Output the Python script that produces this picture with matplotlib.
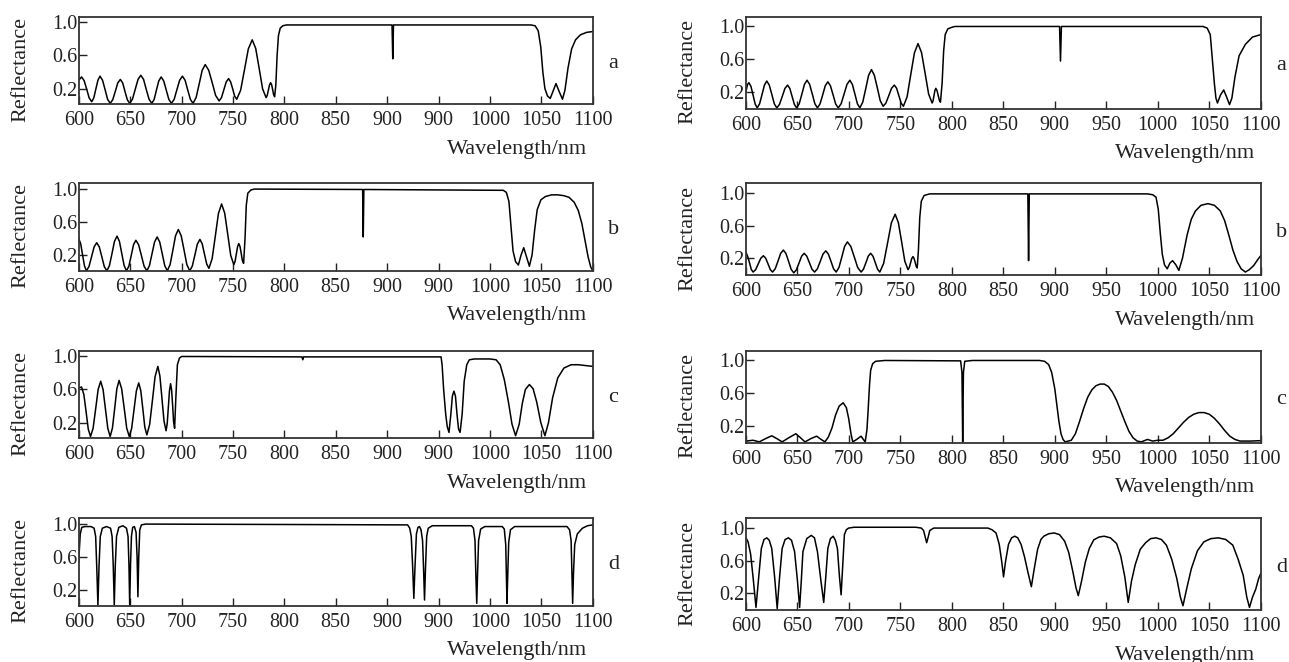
import numpy as np
import matplotlib.pyplot as plt

plt.rcParams['font.family'] = ['Liberation Serif', 'DejaVu Serif']

# reflectance spectra: [wavelength nm, reflectance]
spec_a_left = np.array([
    [600, 0.30], [602.8, 0.34], [605.3, 0.295], [607.8, 0.19], [610.2, 0.085], [612.7, 0.04],
    [614.7, 0.087], [616.7, 0.195], [618.7, 0.30], [620.7, 0.35], [623.2, 0.30], [625.7, 0.185],
    [628.1, 0.07], [630.6, 0.02], [633.1, 0.064], [635.6, 0.165], [638.0, 0.267], [640.5, 0.31],
    [642.8, 0.267], [645.0, 0.165], [647.3, 0.064], [649.6, 0.02], [652.3, 0.071], [655.0, 0.19],
    [657.7, 0.31], [660.4, 0.36], [663.1, 0.31], [665.7, 0.19], [668.4, 0.071], [671.1, 0.02],
    [673.4, 0.068], [675.6, 0.18], [677.9, 0.292], [680.2, 0.34], [682.7, 0.292], [685.2, 0.18],
    [687.7, 0.068], [690.2, 0.02], [692.9, 0.07], [695.5, 0.185], [698.2, 0.30], [700.9, 0.35],
    [703.5, 0.30], [706.0, 0.185], [708.6, 0.07], [711.2, 0.02], [714.2, 0.09], [717.2, 0.255],
    [720.1, 0.42], [723.1, 0.49], [726.5, 0.42], [729.9, 0.27], [733.2, 0.116], [736.6, 0.05],
    [738.9, 0.09], [741.2, 0.185], [743.5, 0.28], [745.8, 0.32], [747.8, 0.28], [749.8, 0.195],
    [751.7, 0.108], [753.7, 0.07], [757.5, 0.178], [761.3, 0.43], [765.0, 0.68], [768.8, 0.79],
    [772.2, 0.685], [775.6, 0.44], [778.9, 0.195], [782.3, 0.09], [783.4, 0.117], [784.5, 0.18],
    [785.6, 0.243], [786.7, 0.27], [787.7, 0.245], [788.7, 0.185], [789.6, 0.125], [790.6, 0.10],
    [791.8, 0.25], [793.0, 0.6], [794.3, 0.84], [796.0, 0.93], [798.5, 0.96], [802, 0.97],
    [904.8, 0.97], [905.5, 0.56], [906.2, 0.97], [1040, 0.97], [1044, 0.96], [1047, 0.9],
    [1049.5, 0.7], [1051.5, 0.4], [1053.5, 0.2], [1056, 0.11], [1058.7, 0.08], [1061.5, 0.17],
    [1064.3, 0.26], [1067.5, 0.16], [1070.6, 0.07], [1073, 0.18], [1076, 0.45], [1079.5, 0.68],
    [1083.3, 0.79], [1088, 0.85], [1094, 0.88], [1100, 0.89]])

spec_a_right = np.array([
    [600, 0.20], [601.4, 0.285], [602.8, 0.31], [604.8, 0.264], [606.9, 0.155], [608.9, 0.047],
    [610.9, 0.0], [613.2, 0.05], [615.6, 0.165], [617.9, 0.28], [620.2, 0.33], [622.6, 0.28],
    [625.1, 0.165], [627.5, 0.05], [629.9, 0.0], [632.5, 0.042], [635.2, 0.14], [637.8, 0.238],
    [640.4, 0.28], [642.6, 0.238], [644.8, 0.14], [647.0, 0.042], [649.2, 0.0], [651.7, 0.051],
    [654.3, 0.17], [656.8, 0.289], [659.3, 0.34], [661.8, 0.289], [664.4, 0.17], [666.9, 0.051],
    [669.4, 0.0], [671.9, 0.048], [674.5, 0.16], [677.0, 0.272], [679.5, 0.32], [682.0, 0.272],
    [684.6, 0.16], [687.1, 0.048], [689.6, 0.0], [692.4, 0.051], [695.3, 0.17], [698.1, 0.289],
    [700.9, 0.34], [703.3, 0.289], [705.8, 0.17], [708.2, 0.051], [710.6, 0.0], [713.4, 0.07],
    [716.3, 0.235], [719.1, 0.40], [721.9, 0.47], [724.7, 0.40], [727.6, 0.245], [730.4, 0.088],
    [733.2, 0.02], [735.9, 0.059], [738.7, 0.15], [741.4, 0.241], [744.1, 0.28], [746.3, 0.241],
    [748.5, 0.15], [750.7, 0.059], [752.9, 0.02], [756.5, 0.136], [760.0, 0.405], [763.6, 0.675],
    [767.1, 0.79], [770.5, 0.68], [774.0, 0.425], [777.4, 0.17], [780.8, 0.06], [781.7, 0.087],
    [782.6, 0.15], [783.5, 0.213], [784.4, 0.24], [785.5, 0.215], [786.7, 0.155], [787.8, 0.095],
    [788.9, 0.07], [790.5, 0.3], [792, 0.7], [793.5, 0.9], [796, 0.97], [800, 0.99], [803, 1.0],
    [904.6, 1.0], [905.5, 0.575], [906.4, 1.0], [1044, 1.0], [1048, 0.98], [1051, 0.9],
    [1053, 0.6], [1055, 0.3], [1056.5, 0.12], [1058, 0.06], [1061, 0.16], [1064.1, 0.22],
    [1067, 0.13], [1069.7, 0.04], [1072, 0.12], [1075, 0.38], [1079, 0.64], [1085.1, 0.78],
    [1092, 0.87], [1100, 0.90]])

spec_b_left = np.array([
    [600, 0.40], [601.9, 0.34], [603.8, 0.20], [605.6, 0.07], [607.5, 0.01], [610.0, 0.061],
    [612.5, 0.18], [615.0, 0.30], [617.5, 0.35], [620.0, 0.30], [622.5, 0.18], [624.9, 0.061],
    [627.4, 0.01], [629.9, 0.073], [632.4, 0.22], [634.8, 0.367], [637.3, 0.43], [639.6, 0.367],
    [641.9, 0.22], [644.2, 0.073], [646.5, 0.01], [648.8, 0.066], [651.1, 0.195], [653.3, 0.325],
    [655.6, 0.38], [658.3, 0.325], [661.0, 0.195], [663.6, 0.066], [666.3, 0.01], [668.8, 0.072],
    [671.3, 0.215], [673.8, 0.359], [676.3, 0.42], [678.8, 0.359], [681.3, 0.215], [683.7, 0.072],
    [686.2, 0.01], [688.9, 0.085], [691.6, 0.26], [694.2, 0.435], [696.9, 0.51], [699.7, 0.435],
    [702.5, 0.26], [705.2, 0.085], [708.0, 0.01], [710.5, 0.067], [713.0, 0.20], [715.4, 0.333],
    [717.9, 0.39], [720.1, 0.338], [722.3, 0.215], [724.5, 0.093], [726.7, 0.04], [729.8, 0.157],
    [732.9, 0.43], [735.9, 0.703], [739.0, 0.82], [742.0, 0.71], [745.0, 0.45], [747.9, 0.195],
    [750.9, 0.085], [752.1, 0.123], [753.3, 0.21], [754.5, 0.30], [755.7, 0.34], [756.9, 0.305],
    [758.1, 0.22], [759.2, 0.135], [760.4, 0.10], [761.8, 0.4], [763, 0.8], [764.5, 0.95],
    [767.6, 0.99], [771, 1.0], [876.2, 0.995], [876.8, 0.42], [877.4, 0.995], [1013, 0.985],
    [1016, 0.96], [1018.5, 0.85], [1020.5, 0.55], [1022.5, 0.25], [1025, 0.12], [1027.7, 0.08],
    [1030.3, 0.2], [1032.9, 0.29], [1035.6, 0.18], [1038.4, 0.065], [1041, 0.2], [1043.5, 0.5],
    [1046, 0.75], [1049.6, 0.87], [1054, 0.91], [1060, 0.93], [1066, 0.93], [1072, 0.92],
    [1077, 0.9], [1082, 0.84], [1086, 0.74], [1089.5, 0.58], [1092.5, 0.38], [1095.5, 0.18],
    [1098, 0.06], [1100, 0.01]])

spec_b_right = np.array([
    [600, 0.27], [601.7, 0.22], [603.5, 0.14], [605.2, 0.06], [606.9, 0.03], [609.4, 0.06],
    [611.9, 0.13], [614.4, 0.20], [616.9, 0.23], [619.1, 0.20], [621.4, 0.13], [623.6, 0.06],
    [625.8, 0.03], [628.4, 0.07], [631.1, 0.165], [633.7, 0.26], [636.3, 0.30], [638.8, 0.258],
    [641.4, 0.16], [643.9, 0.062], [646.4, 0.02], [648.9, 0.056], [651.5, 0.14], [654.0, 0.224],
    [656.5, 0.26], [659.0, 0.226], [661.6, 0.145], [664.1, 0.065], [666.6, 0.03], [669.3, 0.069],
    [672.1, 0.16], [674.8, 0.251], [677.5, 0.29], [680.0, 0.251], [682.6, 0.16], [685.1, 0.069],
    [687.6, 0.03], [690.3, 0.086], [693.1, 0.215], [695.8, 0.345], [698.5, 0.40], [701.8, 0.345],
    [705.2, 0.215], [708.5, 0.086], [711.8, 0.03], [714.1, 0.065], [716.5, 0.145], [718.8, 0.226],
    [721.1, 0.26], [723.3, 0.226], [725.6, 0.145], [727.8, 0.065], [730.0, 0.03], [733.7, 0.136],
    [737.5, 0.385], [741.2, 0.634], [744.9, 0.74], [748.0, 0.638], [751.2, 0.40], [754.3, 0.162],
    [757.4, 0.06], [758.6, 0.084], [759.8, 0.14], [761.0, 0.196], [762.2, 0.22], [763.2, 0.199],
    [764.3, 0.15], [765.3, 0.101], [766.3, 0.08], [767.5, 0.3], [768.8, 0.7], [770.3, 0.9],
    [773, 0.97], [778.4, 0.99], [873.8, 0.99], [874.5, 0.17], [875.2, 0.99], [990, 0.99],
    [995, 0.98], [998.3, 0.95], [1000.5, 0.8], [1002.5, 0.5], [1004.4, 0.25], [1006.5, 0.12],
    [1009.2, 0.07], [1011.8, 0.14], [1014.4, 0.17], [1017.5, 0.12], [1020.5, 0.05], [1024, 0.2],
    [1028.6, 0.49], [1032.6, 0.68], [1036.6, 0.78], [1042, 0.85], [1048.7, 0.87], [1055, 0.85],
    [1060.8, 0.78], [1065, 0.66], [1068.9, 0.49], [1073, 0.3], [1077, 0.16], [1081, 0.07],
    [1085.1, 0.03], [1089, 0.06], [1093.2, 0.11], [1097, 0.18], [1100, 0.23]])

spec_c_left = np.array([
    [600, 0.62], [602.8, 0.63], [605.0, 0.54], [607.2, 0.33], [609.3, 0.12], [611.5, 0.03],
    [614.0, 0.13], [616.5, 0.365], [618.9, 0.60], [621.4, 0.70], [623.7, 0.60], [626.0, 0.365],
    [628.3, 0.13], [630.6, 0.03], [632.8, 0.132], [635.0, 0.37], [637.1, 0.608], [639.3, 0.71],
    [641.8, 0.608], [644.3, 0.37], [646.7, 0.132], [649.2, 0.03], [651.5, 0.128], [653.8, 0.355],
    [656.1, 0.583], [658.4, 0.68], [660.4, 0.586], [662.4, 0.365], [664.3, 0.145], [666.3, 0.05],
    [669.0, 0.175], [671.7, 0.465], [674.3, 0.756], [677.0, 0.88], [679.0, 0.763], [681.0, 0.49],
    [683.0, 0.217], [685.0, 0.10], [686.1, 0.186], [687.2, 0.385], [688.3, 0.585], [689.4, 0.67],
    [690.4, 0.59], [691.4, 0.40], [692.3, 0.21], [693.3, 0.13], [694.5, 0.5], [696, 0.9],
    [698, 0.98], [700.1, 1.0], [817.2, 0.995], [818.0, 0.96], [818.8, 0.995], [952.5, 0.995],
    [953.5, 0.9], [955, 0.6], [957, 0.3], [958.5, 0.15], [960.2, 0.08], [962, 0.3], [963.5, 0.52],
    [965.0, 0.58], [966.5, 0.52], [968, 0.3], [969.5, 0.12], [971.0, 0.08], [973, 0.3], [975, 0.7],
    [977.5, 0.9], [980, 0.96], [985, 0.97], [1000, 0.97], [1006, 0.96], [1010, 0.9], [1014, 0.72],
    [1018, 0.45], [1021.5, 0.18], [1025, 0.04], [1028.5, 0.18], [1031.5, 0.43], [1034.5, 0.6],
    [1038.4, 0.66], [1042, 0.61], [1045.5, 0.45], [1049.5, 0.2], [1053.5, 0.04], [1057, 0.2],
    [1061, 0.5], [1066, 0.74], [1072, 0.86], [1079, 0.9], [1086, 0.9], [1093, 0.89], [1100, 0.88]])

spec_c_right = np.array([
    [600, 0.01], [606.9, 0.02], [612.9, 0.0], [619, 0.04], [625.0, 0.075], [630, 0.04],
    [635.1, 0.0], [641.5, 0.05], [648.4, 0.10], [653, 0.05], [657.3, 0.0], [663, 0.04],
    [668.6, 0.07], [673, 0.03], [676.7, 0.0], [680, 0.06], [683.5, 0.17], [687, 0.33],
    [690.5, 0.44], [694.4, 0.48], [697.5, 0.42], [699.7, 0.29], [702, 0.1], [703.7, 0.0],
    [707.5, 0.03], [711.8, 0.07], [714, 0.03], [715.8, 0.0], [717.5, 0.15], [718.6, 0.38],
    [720, 0.7], [721.1, 0.88], [723, 0.96], [725.9, 0.99], [735, 1.0], [808.5, 0.995],
    [809.8, 0.85], [810.5, 0.0], [811.2, 0.85], [812.5, 0.99], [820, 1.0], [885, 1.0],
    [890, 0.99], [894, 0.95], [897, 0.85], [900, 0.65], [902, 0.45], [904, 0.25], [906, 0.1],
    [908, 0.03], [910, 0.0], [916, 0.02], [920, 0.1], [924, 0.25], [928, 0.41], [932, 0.55],
    [936, 0.64], [940, 0.69], [944, 0.71], [948, 0.71], [952, 0.68], [956, 0.61], [960, 0.51],
    [964, 0.38], [968, 0.25], [972, 0.13], [976, 0.05], [980, 0.01], [984, 0.0], [990, 0.03],
    [995, 0.01], [1000, 0.02], [1005, 0.02], [1010, 0.05], [1015, 0.1], [1020, 0.17],
    [1025, 0.24], [1030, 0.3], [1035, 0.34], [1040, 0.36], [1045, 0.36], [1050, 0.34],
    [1055, 0.29], [1060, 0.22], [1065, 0.14], [1070, 0.07], [1075, 0.03], [1080, 0.01],
    [1090, 0.01], [1100, 0.015]])

spec_d_left = np.array([
    [600, 0.55], [601.5, 0.88], [603, 0.96], [606, 0.97], [612, 0.97], [615, 0.95], [616.5, 0.85],
    [617.5, 0.5], [618.7, 0.02], [619.8, 0.5], [621, 0.85], [623, 0.95], [627, 0.97], [631, 0.95],
    [632.5, 0.85], [633.6, 0.5], [634.6, 0.02], [635.6, 0.5], [636.8, 0.85], [639, 0.96],
    [643, 0.98], [646.5, 0.95], [648, 0.85], [648.9, 0.5], [649.6, 0.02], [650.4, 0.5],
    [651.3, 0.85], [652.5, 0.96], [654.2, 0.97], [655.8, 0.9], [656.8, 0.6], [657.6, 0.12],
    [658.4, 0.6], [659.4, 0.93], [661, 0.99], [665, 1.0], [800, 0.995], [920, 0.99], [922, 0.95],
    [923.5, 0.85], [924.8, 0.5], [926.0, 0.10], [927.2, 0.5], [928.5, 0.88], [930, 0.96],
    [931.5, 0.97], [933, 0.93], [934.5, 0.8], [935.5, 0.45], [936.4, 0.08], [937.3, 0.45],
    [938.5, 0.85], [940, 0.95], [944, 0.98], [982, 0.98], [984, 0.95], [985.5, 0.8], [986.3, 0.4],
    [987.2, 0.04], [988, 0.4], [989, 0.8], [991, 0.94], [995, 0.97], [1012, 0.97], [1014, 0.94],
    [1015.4, 0.75], [1016.0, 0.4], [1016.6, 0.04], [1017.4, 0.4], [1018.3, 0.78], [1020, 0.93],
    [1024, 0.97], [1075, 0.97], [1077.5, 0.93], [1079, 0.8], [1079.8, 0.4], [1080.5, 0.04],
    [1081.3, 0.4], [1082.5, 0.75], [1085, 0.88], [1090, 0.95], [1095, 0.98], [1100, 0.99]])

spec_d_right = np.array([
    [600, 0.88], [602, 0.83], [604.5, 0.68], [607, 0.38], [609.7, 0.025], [612, 0.35],
    [614.9, 0.75], [617.5, 0.86], [620.2, 0.88], [622.6, 0.85], [625.0, 0.75], [627.8, 0.4],
    [630.3, 0.012], [632.5, 0.38], [635.1, 0.75], [638, 0.86], [641.2, 0.88], [644.2, 0.85],
    [647.2, 0.71], [650, 0.35], [652.1, 0.025], [653.7, 0.35], [655.3, 0.71], [659, 0.87],
    [663.4, 0.91], [666.5, 0.88], [669.4, 0.71], [672.8, 0.35], [675.5, 0.087], [677.5, 0.4],
    [679.5, 0.75], [682, 0.87], [684.7, 0.90], [686.8, 0.85], [688.8, 0.75], [690.8, 0.4],
    [692.4, 0.18], [694, 0.55], [695.6, 0.92], [697.5, 0.98], [699.7, 1.0], [705, 1.01],
    [765, 1.01], [770.3, 1.0], [772.5, 0.97], [774.3, 0.88], [775.5, 0.82], [776.8, 0.88],
    [778.5, 0.97], [782.4, 1.0], [835, 1.0], [838.9, 0.98], [842.9, 0.94], [846, 0.8],
    [848.5, 0.58], [850.2, 0.40], [852, 0.58], [855.0, 0.80], [858, 0.88], [861.1, 0.90],
    [864, 0.88], [867.2, 0.80], [870.5, 0.65], [874, 0.45], [877.2, 0.28], [880, 0.5],
    [883.3, 0.74], [886.5, 0.86], [889.3, 0.90], [894, 0.93], [899.4, 0.94], [904.5, 0.92],
    [909.5, 0.84], [913.5, 0.7], [917.6, 0.46], [920.5, 0.27], [922.8, 0.17], [926, 0.35],
    [929.7, 0.585], [933.5, 0.75], [937.8, 0.855], [943, 0.89], [947.9, 0.90], [954, 0.88],
    [960.0, 0.81], [964, 0.66], [968.0, 0.40], [971.3, 0.087], [974.5, 0.35], [978.1, 0.55],
    [983, 0.74], [988.2, 0.82], [993, 0.87], [998.3, 0.88], [1003.5, 0.86], [1008.4, 0.79],
    [1013.5, 0.62], [1018.5, 0.38], [1022, 0.15], [1024.5, 0.046], [1028, 0.25], [1032.6, 0.50],
    [1038.5, 0.72], [1044.7, 0.83], [1051.5, 0.87], [1058.8, 0.88], [1066, 0.86], [1072.9, 0.79],
    [1078, 0.62], [1083.0, 0.42], [1086.5, 0.15], [1089.1, 0.025], [1092, 0.15], [1095.2, 0.25],
    [1098, 0.38], [1100, 0.44]])

panel_letters = ['a', 'b', 'c', 'd']
x_ticks = [600, 650, 700, 750, 800, 850, 900, 950, 1000, 1050, 1100]
x_labels_left = ['600', '650', '700', '750', '800', '850', '900', '900', '1000', '1050', '1100']
x_labels_right = ['600', '650', '700', '750', '800', '850', '900', '950', '1000', '1050', '1100']
y_ticks = [0.2, 0.6, 1.0]
y_labels = ['0.2', '0.6', '1.0']

left_specs = [spec_a_left, spec_b_left, spec_c_left, spec_d_left]
right_specs = [spec_a_right, spec_b_right, spec_c_right, spec_d_right]

# layout in pixels ------------------------------------------------------------
W, H = 1289, 662
tops = [16.7, 183.3, 350.7, 518.3]

def rect(x0, top, w, h):
    return [x0 / W, 1 - (top + h) / H, w / W, h / H]

def draw(ax, spec, xlabels, letter, ylim, h):
    ax.plot(spec[:, 0], spec[:, 1], color='black', lw=1.1)
    ax.set_xlim(600, 1100)
    ax.set_ylim(*ylim)
    ax.set_xticks(x_ticks)
    ax.set_xticklabels(xlabels)
    ax.set_yticks(y_ticks)
    ax.set_yticklabels(y_labels)
    ax.tick_params(direction='in', length=6, width=1.0, color='#222222',
                   labelsize=14.5, colors='#222222')
    ax.tick_params(axis='x', pad=5)
    ax.tick_params(axis='y', pad=1)
    for s in ax.spines.values():
        s.set_linewidth(1.3)
        s.set_color('#333333')
    ax.text(-0.113, 0.40, 'Reflectance', rotation=90, ha='center', va='center',
            fontsize=16, color='#222222', transform=ax.transAxes)
    ax.text(0.99, -45.0 / h, 'Wavelength/nm', ha='right', va='center',
            fontsize=16, color='#222222', transform=ax.transAxes)
    ax.text(1.04, 0.47, letter, ha='center', va='center', fontsize=16,
            color='#222222', transform=ax.transAxes)

fig = plt.figure(figsize=(W / 100, H / 100), dpi=100)
for i in range(4):
    axl = fig.add_axes(rect(78.7, tops[i], 514, 87.5))
    draw(axl, left_specs[i], x_labels_left, panel_letters[i], (0.01, 1.07), 87.5)
    axr = fig.add_axes(rect(746, tops[i], 514.7, 92))
    draw(axr, right_specs[i], x_labels_right, panel_letters[i], (-0.01, 1.12), 92)

fig.savefig('out.png', dpi=100)
